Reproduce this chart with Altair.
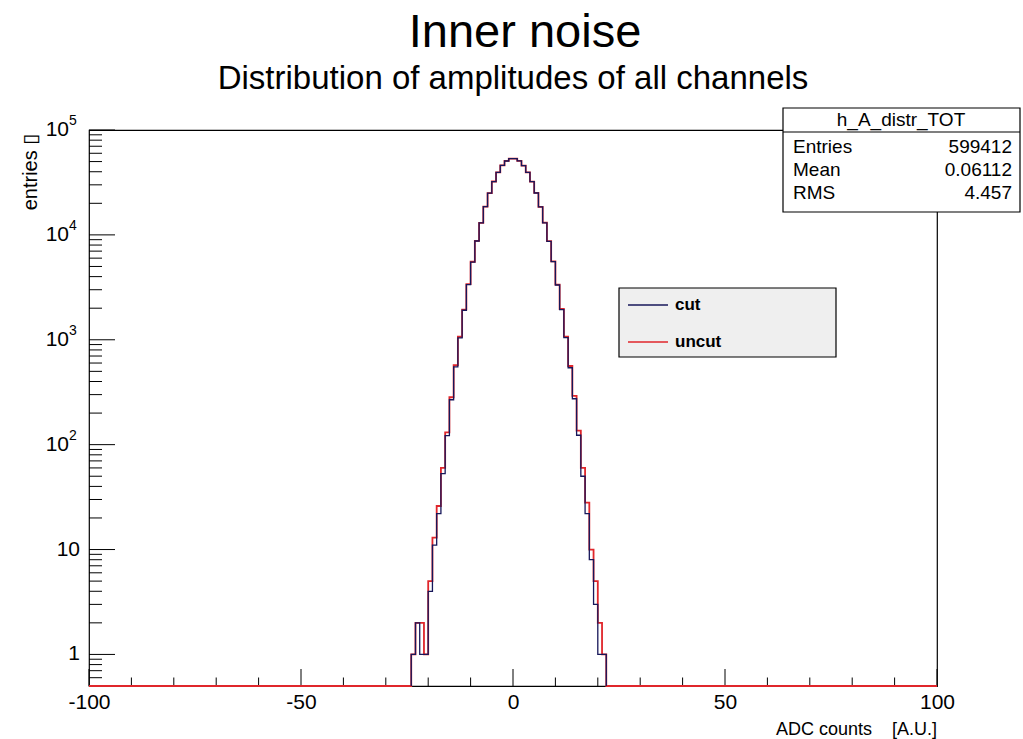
import altair as alt
import pandas as pd

FONT = "Liberation Sans, Arial, DejaVu Sans"

# Histogram contents: one entry per 1-count-wide bin, lower edges -24 .. 21
bin_low = list(range(-24, 22))
cut_counts = [
    1, 2, 1, 1, 4, 11, 22, 53, 122, 268, 551, 1043, 1911, 3362, 5508, 8741,
    13002, 18566, 25012, 32260, 39371, 45902, 50648, 53355,
    53315, 50737, 45788, 39450, 32198, 25090, 18489, 13045, 8690, 5561, 3328,
    1935, 1046, 541, 274, 123, 50, 22, 8, 3, 1, 1,
]
uncut_counts = [
    1, 2, 2, 1, 5, 13, 26, 60, 131, 283, 572, 1069, 1942, 3398, 5545, 8779,
    13040, 18601, 25049, 32290, 39400, 45929, 50671, 53377,
    53338, 50760, 45815, 39480, 32230, 25125, 18526, 13083, 8728, 5598, 3362,
    1966, 1072, 562, 292, 136, 60, 28, 10, 5, 2, 1,
]

# Axis ticks and labels
x_major = [-100, -50, 0, 50, 100]
x_minor = [-90, -80, -70, -60, -40, -30, -20, -10, 10, 20, 30, 40, 60, 70, 80, 90]
y_major = [1, 10, 100, 1000, 10000, 100000]
y_minor = [0.6, 0.7, 0.8, 0.9] + [m * 10 ** e for e in range(0, 5) for m in range(2, 10)]
y_label_base = ["1", "10", "10", "10", "10", "10"]
y_label_exp = ["", "", "2", "3", "4", "5"]

stat_names = ["Entries", "Mean", "RMS"]
stat_values = [str(sum(cut_counts)), "0.06112", "4.457"]

CUT_COLOR = "#17175a"
UNCUT_COLOR = "#e0262b"

W, H = 848, 556
X_LO, X_HI = -100, 100
Y_LO, Y_HI = 0.5, 1e5

xs = alt.Scale(domain=[X_LO, X_HI], nice=False, zero=False)
ys = alt.Scale(type="log", domain=[Y_LO, Y_HI], nice=False)
x_axis = alt.Axis(
    values=x_major, ticks=False, domain=False, grid=False, title=None,
    labelFont=FONT, labelFontSize=21, labelColor="black", labelPadding=5,
    labelFlush=False, labelOverlap=False, labelBound=False,
    labelExpr="'' + datum.value",
)


def full_outline(counts):
    """Step outline over the whole axis range; empty bins sit on the frame bottom."""
    filled = dict(zip(bin_low, counts))
    vals = [filled.get(e, 0) for e in range(X_LO, X_HI)]
    vals.append(vals[-1])
    return pd.DataFrame({"edge": list(range(X_LO, X_HI + 1)), "n": vals})


def filled_outline(counts):
    """Step outline over the filled bins only, with drops to the frame at both ends."""
    edges = [bin_low[0]] + bin_low + [bin_low[-1] + 1, bin_low[-1] + 1]
    vals = [0] + list(counts) + [counts[-1], 0]
    return pd.DataFrame({"edge": edges, "n": vals})


def hist_layer(df, color, width):
    return (
        alt.Chart(df)
        .transform_calculate(yv=f"max(datum.n, {Y_LO})")
        .mark_line(interpolate="step-after", color=color, strokeWidth=width)
        .encode(
            x=alt.X("edge:Q", scale=xs, axis=x_axis, sort=None),
            y=alt.Y("yv:Q", scale=ys, axis=None),
            order=alt.Order("idx:Q"),
        )
        .transform_window(idx="row_number()")
    )


uncut_layer = hist_layer(full_outline(uncut_counts), UNCUT_COLOR, 1.8)
cut_layer = hist_layer(filled_outline(cut_counts), CUT_COLOR, 1.3)

# Inward ticks on the x axis
xmaj = alt.Chart(pd.DataFrame({"v": x_major})).mark_rule(color="black", strokeWidth=1).encode(
    x=alt.X("v:Q", scale=xs, axis=x_axis), y=alt.value(H), y2=alt.value(H - 17))
xmin = alt.Chart(pd.DataFrame({"v": x_minor})).mark_rule(color="black", strokeWidth=1).encode(
    x=alt.X("v:Q", scale=xs, axis=x_axis), y=alt.value(H), y2=alt.value(H - 8.5))

# Inward ticks on the log y axis
ymaj = alt.Chart(pd.DataFrame({"v": y_major})).mark_rule(color="black", strokeWidth=1).encode(
    y=alt.Y("v:Q", scale=ys, axis=None), x=alt.value(0), x2=alt.value(26))
ymin = alt.Chart(pd.DataFrame({"v": y_minor})).mark_rule(color="black", strokeWidth=1).encode(
    y=alt.Y("v:Q", scale=ys, axis=None), x=alt.value(0), x2=alt.value(13))

ylab_df = pd.DataFrame({"v": y_major, "base": y_label_base, "exp": y_label_exp})
ylab_plain = (
    alt.Chart(ylab_df).transform_filter("datum.exp == ''")
    .mark_text(font=FONT, fontSize=21, align="right", baseline="middle", color="black")
    .encode(y=alt.Y("v:Q", scale=ys, axis=None), x=alt.value(-9), text="base:N")
)
ylab_base = (
    alt.Chart(ylab_df).transform_filter("datum.exp != ''")
    .mark_text(font=FONT, fontSize=21, align="right", baseline="middle", color="black")
    .encode(y=alt.Y("v:Q", scale=ys, axis=None), x=alt.value(-20), text="base:N")
)
ylab_exp = (
    alt.Chart(ylab_df).transform_filter("datum.exp != ''")
    .mark_text(font=FONT, fontSize=14, align="left", baseline="middle", color="black", dy=-9)
    .encode(y=alt.Y("v:Q", scale=ys, axis=None), x=alt.value(-20), text="exp:N")
)

one = pd.DataFrame({"k": [0]})


def label(text, x, y, size, align="center", weight="normal", angle=0, baseline="middle"):
    return alt.Chart(one).mark_text(
        text=text, font=FONT, fontSize=size, align=align, baseline=baseline,
        fontWeight=weight, angle=angle, color="black",
    ).encode(x=alt.value(x), y=alt.value(y))


def box(x, x2, y, y2, fill):
    return alt.Chart(one).mark_rect(fill=fill, stroke="black", strokeWidth=1.2).encode(
        x=alt.value(x), x2=alt.value(x2), y=alt.value(y), y2=alt.value(y2))


def seg(x, x2, y, color, width=1.2):
    return alt.Chart(one).mark_rule(color=color, strokeWidth=width).encode(
        x=alt.value(x), x2=alt.value(x2), y=alt.value(y))


titles = [
    label("Inner noise", 436, -83, 47, baseline="alphabetic"),
    label("Distribution of amplitudes of all channels", 424, -41, 33, baseline="alphabetic"),
    label("entries \u25af", -58, 42, 20, angle=270),
    label("ADC counts\u00a0\u00a0\u00a0\u00a0[A.U.]", W, 605, 18, align="right", baseline="alphabetic"),
]

stats = [box(694, 931, -22, 82, "white"), seg(694, 931, 2, "black"),
         label("h_A_distr_TOT", 812, -10, 19)]
for i, (nm, val) in enumerate(zip(stat_names, stat_values)):
    stats.append(label(nm, 704, 17 + 23 * i, 19, align="left"))
    stats.append(label(val, 923, 17 + 23 * i, 19, align="right"))

legend = [
    box(530, 747, 158, 227, "#efefef"),
    seg(539, 579, 175, CUT_COLOR, 1.5),
    seg(539, 579, 212, UNCUT_COLOR, 1.5),
    label("cut", 586, 175, 17, align="left", weight="bold"),
    label("uncut", 586, 212, 17, align="left", weight="bold"),
]

chart = (
    alt.layer(
        xmin, xmaj, ymin, ymaj,
        uncut_layer, cut_layer,
        ylab_plain, ylab_base, ylab_exp,
        *titles, *legend, *stats,
    )
    .properties(
        width=W, height=H,
        autosize=alt.AutoSizeParams(type="none"),
        padding={"left": 89, "top": 130, "right": 86, "bottom": 53},
        background="white",
    )
    .configure_view(stroke="black", strokeWidth=1.2)
)

chart.save("out.html", embed_options={"renderer": "svg", "actions": False})
